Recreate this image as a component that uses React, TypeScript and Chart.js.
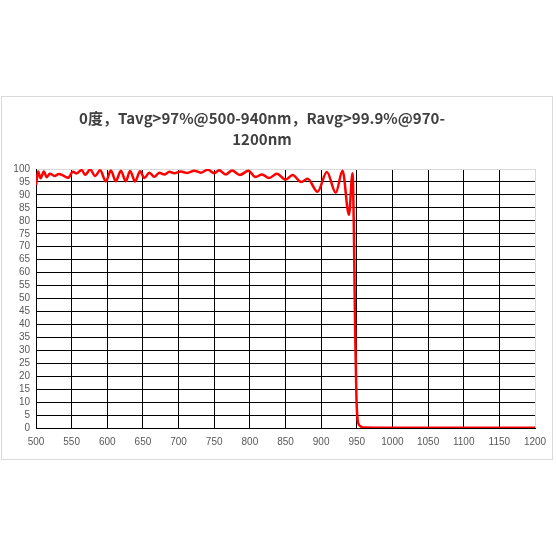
import { useEffect, useRef } from 'react';
import { Chart, ChartConfiguration, registerables } from 'chart.js';

Chart.register(...registerables);

// wavelength (nm) and transmittance (%)
const wavelengths = [
    500, 503, 506.5, 511, 515, 519.5, 526, 532, 538, 545, 552, 557, 564, 569, 576, 583, 590,
    598, 605, 612, 619, 626, 632, 639, 646, 652, 659, 666, 673, 680, 687, 694, 703, 712, 722,
    731, 741, 750, 757, 766, 775, 786, 798, 808, 817, 827, 838, 850, 860, 872, 881, 895, 908,
    920.5, 930, 939, 944, 946, 947, 948, 949.5, 951, 953, 956, 960, 1000, 1200,
];
const transmittance = [
    93.8, 99.0, 96.4, 99.0, 96.8, 98.2, 97.3, 98.1, 97.5, 96.6, 98.9, 98.3, 99.6, 97.7, 99.8, 97.3, 99.5,
    95.2, 99.4, 95.3, 99.3, 95.3, 99.2, 95.2, 99.1, 96.5, 98.6, 97.0, 98.6, 97.9, 98.9, 98.4, 99.0, 98.5, 99.3,
    98.6, 99.7, 98.4, 99.5, 97.9, 99.4, 97.7, 99.3, 96.9, 97.9, 96.5, 98.2, 95.9, 97.7, 95.0, 96.2, 91.2, 98.8,
    90.8, 99.3, 82.3, 98.4, 75, 52, 33, 12, 3.5, 1.3, 0.5, 0.2, 0.1, 0.1,
];

const titleLines = ['0度，Tavg>97%@500-940nm，Ravg>99.9%@970-', '1200nm'];

const xMin = 500;
const xMax = 1200;
const xStep = 50;
const yMin = 0;
const yMax = 100;
const yStep = 5;

const TransmissionChart = () => {
    const canvasRef = useRef<HTMLCanvasElement | null>(null);
    const chartInstance = useRef<Chart<'line'> | null>(null);

    useEffect(() => {
        if (!canvasRef.current) return;
        if (chartInstance.current) chartInstance.current.destroy();

        const tickFont = { family: '"Liberation Sans", Arial, sans-serif', size: 10 };

        const config: ChartConfiguration<'line'> = {
            type: 'line',
            data: {
                datasets: [
                    {
                        label: 'T',
                        data: wavelengths.map((w, i) => ({ x: w, y: transmittance[i] })),
                        borderColor: '#ff0000',
                        borderWidth: 2.5,
                        pointRadius: 0,
                        cubicInterpolationMode: 'monotone',
                        fill: false,
                    },
                ],
            },
            options: {
                animation: false,
                responsive: true,
                maintainAspectRatio: false,
                layout: { padding: { top: 72, right: 17, left: 0, bottom: 0 } },
                plugins: {
                    legend: { display: false },
                    title: { display: false },
                    tooltip: { enabled: false },
                },
                scales: {
                    x: {
                        type: 'linear',
                        min: xMin,
                        max: xMax,
                        ticks: {
                            stepSize: xStep,
                            color: '#595959',
                            font: tickFont,
                            padding: 8,
                            maxRotation: 0,
                            autoSkip: false,
                            callback: (value) => String(value),
                        },
                        grid: {
                            color: (ctx) => (ctx.tick && ctx.tick.value === xMax ? '#d9d9d9' : '#000000'),
                            lineWidth: 1,
                            drawTicks: false,
                        },
                        border: { display: true, color: '#000000', width: 1 },
                        afterFit: (scale) => {
                            scale.height = 31;
                            scale.paddingLeft = 0;
                            scale.paddingRight = 0;
                        },
                    },
                    y: {
                        min: yMin,
                        max: yMax,
                        ticks: {
                            stepSize: yStep,
                            color: '#595959',
                            font: tickFont,
                            padding: 6,
                            autoSkip: false,
                            callback: (value) => String(value),
                        },
                        grid: {
                            color: (ctx) => (ctx.tick && ctx.tick.value === yMax ? '#d9d9d9' : '#000000'),
                            lineWidth: 1,
                            drawTicks: false,
                        },
                        border: { display: true, color: '#000000', width: 1 },
                        afterFit: (scale) => {
                            scale.width = 34;
                        },
                    },
                },
            },
        };

        chartInstance.current = new Chart(canvasRef.current, config);

        return () => {
            if (chartInstance.current) {
                chartInstance.current.destroy();
                chartInstance.current = null;
            }
        };
    }, []);

    return <canvas ref={canvasRef} />;
};

export default function App() {
    return (
        <div style={{ position: 'absolute', left: 0, top: 0, width: 556, height: 556, background: '#ffffff' }}>
            <div
                style={{
                    position: 'absolute',
                    left: 1,
                    top: 96,
                    width: 550,
                    height: 362,
                    border: '1px solid #d9d9d9',
                    background: '#ffffff',
                }}
            >
                <div style={{ position: 'absolute', left: 0, top: 0, width: 550, height: 362 }}>
                    <TransmissionChart />
                </div>
                <div
                    style={{
                        position: 'absolute',
                        left: 0,
                        top: 10,
                        width: 520,
                        textAlign: 'center',
                        fontFamily: '"Noto Sans CJK SC", "Open Sans", sans-serif',
                        fontWeight: 'bold',
                        fontSize: 15,
                        lineHeight: '21px',
                        color: '#404040',
                    }}
                >
                    {titleLines.map((line) => (
                        <div key={line}>{line}</div>
                    ))}
                </div>
            </div>
        </div>
    );
}
